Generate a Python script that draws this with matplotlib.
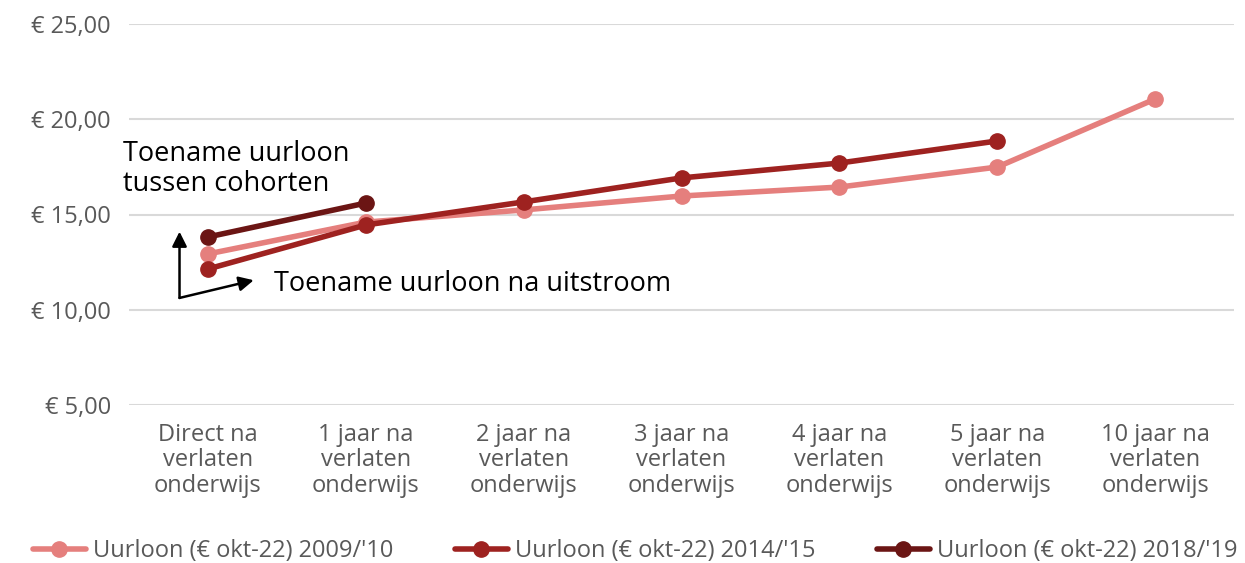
import matplotlib
matplotlib.use("Agg")
import matplotlib.pyplot as plt

categories = ["Direct na\nverlaten\nonderwijs", "1 jaar na\nverlaten\nonderwijs", "2 jaar na\nverlaten\nonderwijs",
              "3 jaar na\nverlaten\nonderwijs", "4 jaar na\nverlaten\nonderwijs", "5 jaar na\nverlaten\nonderwijs",
              "10 jaar na\nverlaten\nonderwijs"]
s2009 = [12.93, 14.60, 15.24, 15.97, 16.44, 17.49, 21.06]
s2014 = [12.14, 14.45, 15.66, 16.92, 17.70, 18.86]
s2018 = [13.82, 15.60]
labels = ["Uurloon (€ okt-22) 2009/'10", "Uurloon (€ okt-22) 2014/'15", "Uurloon (€ okt-22) 2018/'19"]
yticks = [5, 10, 15, 20, 25]

plt.rcParams['font.family'] = ['Open Sans', 'DejaVu Sans']
fig = plt.figure(figsize=(12.45, 5.63), dpi=100)
ax = fig.add_axes([129/1245, 1-405/563, (1234-129)/1245, (405-24)/563])

colors = ["#E57F7D", "#9E2220", "#6B1514"]
for data, c, lab in zip([s2009, s2014, s2018], colors, labels):
    ax.plot(range(len(data)), data, color=c, lw=4, marker='o', ms=11, label=lab, solid_capstyle='round')

ax.set_xlim(-0.5, 6.5)
ax.set_ylim(5, 25)
ax.set_yticks(yticks)
ax.set_yticklabels([f"€ {v:.2f}".replace('.', ',') for v in yticks], color="#595959", fontsize=17)
ax.set_xticks(range(len(categories)))
ax.set_xticklabels(categories, color="#595959", fontsize=17, linespacing=1.07)
ax.tick_params(axis='y', length=0, pad=13)
ax.tick_params(axis='x', length=0, pad=13)
ax.grid(axis='y', color="#D9D9D9", lw=1.5)
ax.set_axisbelow(True)
for s in ax.spines.values():
    s.set_visible(False)

# annotation arrows
ax.annotate("", xy=(-0.18, 14.1), xytext=(-0.18, 10.62),
            arrowprops=dict(arrowstyle="-|>", color="black", lw=1.8, mutation_scale=22, shrinkA=0, shrinkB=0))
ax.annotate("", xy=(0.29, 11.55), xytext=(-0.18, 10.62),
            arrowprops=dict(arrowstyle="-|>", color="black", lw=1.8, mutation_scale=22, shrinkA=0, shrinkB=0))
ax.text(-0.535, 17.4, "Toename uurloon\ntussen cohorten", fontsize=19.5, color="black", va='center', ha='left',
        linespacing=1.12, clip_on=False)
ax.text(0.42, 11.35, "Toename uurloon na uitstroom", fontsize=19.5, color="black", va='center', ha='left')

leg = fig.legend(loc='center', bbox_to_anchor=(0.51, 1-551/563), ncol=3, frameon=False,
                 fontsize=17, handlelength=2.25, columnspacing=2.6, handletextpad=0.3)
for t in leg.get_texts():
    t.set_color("#595959")

fig.savefig("out.png", dpi=100)
